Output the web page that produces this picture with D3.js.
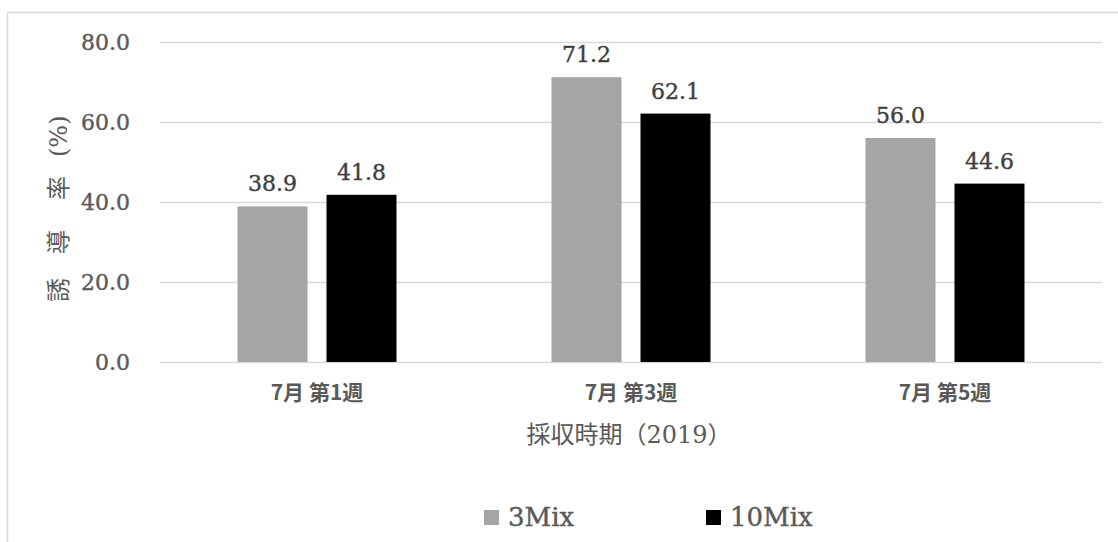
<!DOCTYPE html>
<html>
<head>
<meta charset="utf-8">
<script src="https://cdn.jsdelivr.net/npm/d3@7"></script>
<style>
  body { margin: 0; background: #fff; }
  svg { display: block; font-family: "DejaVu Serif", "Noto Sans CJK JP", serif; }
  .num { stroke-width: 0.4px; }
</style>
</head>
<body>
<div id="chart"></div>
<script>
const categories = ['7月 第1週', '7月 第3週', '7月 第5週'];
const seriesNames = ['3Mix', '10Mix'];
const values3Mix = [38.9, 71.2, 56.0];
const values10Mix = [41.8, 62.1, 44.6];
const yTicks = [0, 20, 40, 60, 80];

const width = 1118, height = 542;
const colors = { '3Mix': '#a5a5a5', '10Mix': '#000000' };
const plot = { left: 160, right: 1102, top: 42, bottom: 362 };

const svg = d3.select('#chart').append('svg')
  .attr('width', width).attr('height', height);

// outer chart border (runs off the right and bottom edges)
svg.append('rect')
  .attr('x', 7.5).attr('y', 12.5)
  .attr('width', width + 20).attr('height', height + 20)
  .attr('fill', 'none').attr('stroke', '#d9d9d9').attr('stroke-width', 1.5);

const x = d3.scaleBand().domain(categories).range([plot.left, plot.right]);
const xs = d3.scaleBand().domain(seriesNames).range([0, x.bandwidth()])
  .paddingInner(19 / 89).paddingOuter(155 / 178);
const y = d3.scaleLinear().domain([0, 80]).range([plot.bottom, plot.top]);

// gridlines
svg.append('g').selectAll('line').data(yTicks).join('line')
  .attr('x1', plot.left).attr('x2', plot.right)
  .attr('y1', d => Math.round(y(d)) + 0.5).attr('y2', d => Math.round(y(d)) + 0.5)
  .attr('stroke', '#d9d9d9').attr('stroke-width', 1.5);

// y tick labels
svg.append('g').selectAll('text').data(yTicks).join('text')
  .attr('class', 'num')
  .attr('x', 130).attr('y', d => y(d)).attr('dy', '0.36em')
  .attr('text-anchor', 'end').attr('fill', '#595959').attr('stroke', '#595959')
  .attr('font-size', 22)
  .text(d3.format('.1f'));

const rows = categories.map((c, i) => ({
  cat: c,
  vals: [{ s: '3Mix', v: values3Mix[i] }, { s: '10Mix', v: values10Mix[i] }],
}));

const groups = svg.append('g').selectAll('g').data(rows).join('g')
  .attr('transform', d => `translate(${x(d.cat)},0)`);

groups.selectAll('rect').data(d => d.vals).join('rect')
  .attr('x', d => xs(d.s)).attr('width', xs.bandwidth())
  .attr('y', d => y(d.v)).attr('height', d => y(0) - y(d.v))
  .attr('fill', d => colors[d.s]);

groups.selectAll('text').data(d => d.vals).join('text')
  .attr('class', 'num')
  .attr('x', d => xs(d.s) + xs.bandwidth() / 2)
  .attr('y', d => y(d.v) - 15)
  .attr('text-anchor', 'middle').attr('fill', '#404040').attr('stroke', '#404040')
  .attr('font-size', 22)
  .text(d => d3.format('.1f')(d.v));

// x category labels
svg.append('g').selectAll('text').data(categories).join('text')
  .attr('x', d => x(d) + x.bandwidth() / 2).attr('y', 400)
  .attr('text-anchor', 'middle').attr('fill', '#595959').attr('font-size', 21)
  .attr('font-family', '"Noto Sans CJK JP", sans-serif').attr('font-weight', 600)
  .text(d => d);

// axis titles
svg.append('text')
  .attr('x', (plot.left + plot.right) / 2 - 2).attr('y', 443)
  .attr('text-anchor', 'middle').attr('fill', '#595959').attr('font-size', 24)
  .text('採収時期（2019）');

const yTitle = svg.append('text')
  .attr('transform', 'translate(67,0) rotate(-90)')
  .attr('fill', '#595959').attr('font-size', 24);
yTitle.append('tspan').attr('x', -302).text('誘');
yTitle.append('tspan').attr('x', -254).text('導');
yTitle.append('tspan').attr('x', -200).text('率');
yTitle.append('tspan').attr('x', -157).text('(%)');

// legend
const legendX = [484, 706];
const legend = svg.append('g').selectAll('g').data(seriesNames).join('g')
  .attr('transform', (d, i) => `translate(${legendX[i]},510)`);
legend.append('rect').attr('width', 15).attr('height', 15).attr('fill', d => colors[d]);
legend.append('text').attr('class', 'num').attr('x', 24).attr('y', 16)
  .attr('fill', '#595959').attr('stroke', '#595959')
  .attr('font-size', 26).text(d => d);
</script>
</body>
</html>
